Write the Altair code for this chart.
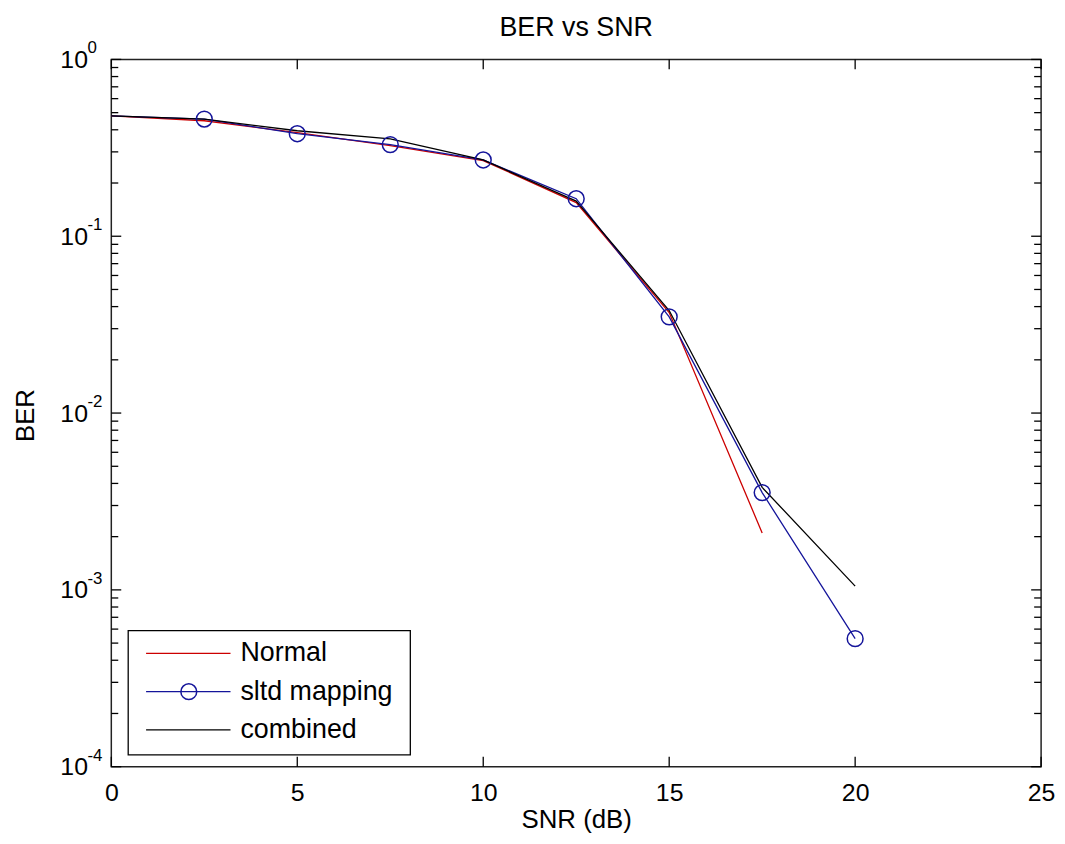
import altair as alt
import pandas as pd

# ---- data ----
snr = [0, 2.5, 5, 7.5, 10, 12.5, 15, 17.5, 20]
ber_normal = [0.48, 0.45, 0.385, 0.325, 0.268, 0.155, 0.037, 0.0021]
ber_sltd = [0.48, 0.46, 0.38, 0.33, 0.27, 0.163, 0.035, 0.00355, 0.00053]
ber_combined = [0.48, 0.46, 0.395, 0.355, 0.27, 0.158, 0.038, 0.0038, 0.00105]

series_names = ["Normal", "sltd mapping", "combined"]
series_colors = ["#cc0000", "#14149a", "#000000"]

x_tick_values = [0, 5, 10, 15, 20, 25]
y_decade_exponents = [0, -1, -2, -3, -4]
y_exponent_labels = ["0", "-1", "-2", "-3", "-4"]

FONT = "Liberation Sans"
W, H = 936, 712

rows = []
for name, vals in zip(series_names, [ber_normal, ber_sltd, ber_combined]):
    for s, b in zip(snr, vals):
        rows.append({"series": name, "snr": s, "ber": b})
df = pd.DataFrame(rows)

x_scale = alt.Scale(domain=[0, 25], nice=False, zero=False)
y_scale = alt.Scale(type="log", domain=[1e-4, 1], nice=False)
stroke_scale = alt.Scale(domain=series_names, range=series_colors)

x_axis = alt.Axis(
    values=x_tick_values, format="d", tickSize=0, labelPadding=14,
    labelFontSize=25, labelFont=FONT, labelColor="black",
    labelFlush=False, labelOverlap=False, grid=False, domain=False,
    title="SNR (dB)", titleFont=FONT, titleFontSize=26, titleFontWeight="normal",
    titleColor="black", titleX=W / 2, titleY=61, titleBaseline="alphabetic", titleAlign="center",
)
y_axis = alt.Axis(
    values=[10.0 ** e for e in y_decade_exponents], labelExpr="'10'", tickSize=0,
    labelPadding=24, labelFontSize=25, labelFont=FONT, labelColor="black",
    labelFlush=False, labelOverlap=False, grid=False, domain=False,
    title="BER", titleFont=FONT, titleFontSize=26, titleFontWeight="normal",
    titleColor="black", titleX=-86, titleY=H / 2 + 2, titleBaseline="middle",
    titleAlign="center", titleAngle=270,
)

x_enc = alt.X("snr:Q", scale=x_scale, axis=x_axis)
y_enc = alt.Y("ber:Q", scale=y_scale, axis=y_axis)

lines = alt.Chart(df).mark_line(strokeWidth=1.3).encode(
    x=x_enc, y=y_enc,
    stroke=alt.Stroke("series:N", scale=stroke_scale, legend=None),
)

# markers: the reference shows no marker at SNR = 0
circles = alt.Chart(df).transform_filter(
    "datum.series == 'sltd mapping' && datum.snr > 0"
).mark_point(
    shape="circle", filled=False, size=254, strokeWidth=1.5, color=series_colors[1], opacity=1
).encode(x=x_enc, y=y_enc)

# inward ticks (MATLAB style)
xt = pd.DataFrame({"snr": x_tick_values})
x_ticks_bottom = alt.Chart(xt).mark_rule(color="black", strokeWidth=1.3).encode(
    x=x_enc, y=alt.value(H), y2=alt.value(H - 10))
x_ticks_top = alt.Chart(xt).mark_rule(color="black", strokeWidth=1.3).encode(
    x=x_enc, y=alt.value(0), y2=alt.value(10))

ymaj = pd.DataFrame({"ber": [10.0 ** e for e in y_decade_exponents], "e": y_exponent_labels})
ymin = pd.DataFrame({"ber": [m * 10.0 ** e for e in range(-4, 0) for m in range(2, 10)]})
y_maj_left = alt.Chart(ymaj).mark_rule(color="black", strokeWidth=1.3).encode(
    y=y_enc, x=alt.value(0), x2=alt.value(10))
y_maj_right = alt.Chart(ymaj).mark_rule(color="black", strokeWidth=1.3).encode(
    y=y_enc, x=alt.value(W), x2=alt.value(W - 10))
y_min_left = alt.Chart(ymin).mark_rule(color="black", strokeWidth=1.3).encode(
    y=y_enc, x=alt.value(0), x2=alt.value(7))
y_min_right = alt.Chart(ymin).mark_rule(color="black", strokeWidth=1.3).encode(
    y=y_enc, x=alt.value(W), x2=alt.value(W - 7))

exponents = alt.Chart(ymaj).mark_text(
    align="left", baseline="middle", dy=-11, fontSize=17, font=FONT, color="black"
).encode(y=y_enc, x=alt.value(-24), text="e:N")

# ---- MATLAB-style legend box (lower left) ----
LEG_LEFT, LEG_RIGHT, LEG_TOP, LEG_BOTTOM = 17, 301, 575, 700
LEG_ROW0, LEG_ROW_STEP = 598, 38.5
legend_df = pd.DataFrame({
    "series": series_names,
    "ly": [LEG_ROW0 + i * LEG_ROW_STEP for i in range(len(series_names))],
})
legend_box = alt.Chart(pd.DataFrame({"k": [0]})).mark_rect(
    fill="white", stroke="black", strokeWidth=1.3
).encode(x=alt.value(LEG_LEFT), x2=alt.value(LEG_RIGHT), y=alt.value(LEG_TOP), y2=alt.value(LEG_BOTTOM))
legend_lines = alt.Chart(legend_df).mark_rule(strokeWidth=1.3).encode(
    x=alt.value(35), x2=alt.value(120),
    y=alt.Y("ly:Q", scale=None),
    stroke=alt.Stroke("series:N", scale=stroke_scale, legend=None),
)
legend_marker = alt.Chart(legend_df).transform_filter("datum.series == 'sltd mapping'").mark_point(
    shape="circle", filled=False, size=254, strokeWidth=1.5, color=series_colors[1], opacity=1
).encode(x=alt.value(78), y=alt.Y("ly:Q", scale=None))
legend_text = alt.Chart(legend_df).mark_text(
    align="left", baseline="middle", fontSize=27, font=FONT, color="black"
).encode(x=alt.value(130), y=alt.Y("ly:Q", scale=None), text="series:N")

chart = alt.layer(
    lines, circles, x_ticks_bottom, x_ticks_top, y_maj_left, y_maj_right,
    y_min_left, y_min_right, exponents,
    legend_box, legend_lines, legend_marker, legend_text,
).properties(
    width=W, height=H,
    title=alt.TitleParams("BER vs SNR", font=FONT, fontSize=27, fontWeight="normal",
                          color="black", anchor="middle", offset=18, dy=20),
    padding={"left": 104, "top": 49, "right": 16, "bottom": 67},
    autosize=alt.AutoSizeParams(type="none"),
    background="white",
).configure_view(stroke="#222222", strokeWidth=1.5)

chart.save("out.html", embed_options={"renderer": "svg", "actions": False})
